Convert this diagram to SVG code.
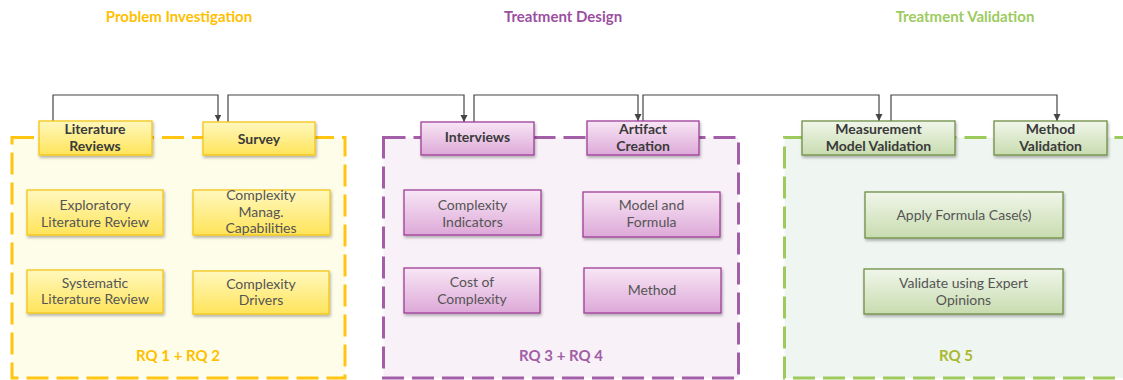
<svg xmlns="http://www.w3.org/2000/svg" width="1123" height="380" viewBox="0 0 1123 380">
<style>
.title{font-family:"Lato","Liberation Sans",sans-serif;font-weight:700;font-size:15px;text-anchor:middle}
.hd{font-family:"Lato","Liberation Sans",sans-serif;font-weight:700;font-size:14px;fill:#3a3a3a;text-anchor:middle}
.tx{font-family:"Lato","Liberation Sans",sans-serif;font-size:14px;fill:#555;text-anchor:middle}
.rq{font-family:"Lato","Liberation Sans",sans-serif;font-weight:700;font-size:15px;text-anchor:middle}
.cy{fill:#FEFDEA;stroke:#FFC510;stroke-width:3;stroke-dasharray:22 8}
.cp{fill:#F8F1F8;stroke:#A25EA6;stroke-width:3;stroke-dasharray:22 8}
.cg{fill:#EFF5F1;stroke:#9CCB5C;stroke-width:3;stroke-dasharray:22 8}
.by{fill:url(#gy);stroke:#F5C518;stroke-width:1.3;filter:url(#sh)}
.bp{fill:url(#gp);stroke:#9E3E98;stroke-width:1.3;filter:url(#sh)}
.bg{fill:url(#gg);stroke:#6F8F45;stroke-width:1.3;filter:url(#sh)}
.con{fill:none;stroke:#454545;stroke-width:1.2;marker-end:url(#ar)}
</style>
<defs>
<linearGradient id="gy" x1="0" y1="0" x2="0" y2="1"><stop offset="0" stop-color="#FFF8BE"/><stop offset="1" stop-color="#FFE45A"/></linearGradient>
<linearGradient id="gp" x1="0" y1="0" x2="0" y2="1"><stop offset="0" stop-color="#F8E6F5"/><stop offset="1" stop-color="#DDA9D8"/></linearGradient>
<linearGradient id="gg" x1="0" y1="0" x2="0" y2="1"><stop offset="0" stop-color="#F0F6EA"/><stop offset="1" stop-color="#C8DCAF"/></linearGradient>
<filter id="sh" x="-10%" y="-20%" width="125%" height="150%"><feDropShadow dx="1" dy="2" stdDeviation="1.5" flood-color="#000" flood-opacity="0.3"/></filter>
<marker id="ar" markerWidth="8" markerHeight="8" refX="7" refY="4" orient="auto" markerUnits="userSpaceOnUse"><path d="M0,0.5 L7,4 L0,7.5 Z" fill="#454545"/></marker>
</defs>
<rect width="1123" height="380" fill="#fff"/>
<text class="title" x="179" y="22" fill="#FFC000">Problem Investigation</text>
<text class="title" x="563" y="22" fill="#9B4FA0">Treatment Design</text>
<text class="title" x="965" y="22" fill="#9DCB5E">Treatment Validation</text>

<g id="phase-problem-investigation">
<rect class="cy" x="12" y="137.5" width="333" height="240.5"/>
<text class="rq" x="178" y="361" fill="#FFC000">RQ 1 + RQ 2</text>
</g>
<g id="phase-treatment-design">
<rect class="cp" x="383.5" y="137.5" width="355" height="240.5"/>
<text class="rq" x="561" y="361" fill="#A25EA6">RQ 3 + RQ 4</text>
</g>
<g id="phase-treatment-validation">
<rect class="cg" x="784.5" y="137.5" width="360" height="240.5"/>
<text class="rq" x="956" y="361" fill="#A9B82E">RQ 5</text>
</g>

<g id="connectors">
<path class="con" d="M53,121 V95 H218 V121.5"/>
<path class="con" d="M228,122 V95 H464 V122"/>
<path class="con" d="M474,122 V95 H638 V121"/>
<path class="con" d="M643,121 V95 H879 V121"/>
<path class="con" d="M891,121 V95 H1057 V121"/>
</g>

<g id="literature-reviews"><rect class="by" x="39" y="121" width="113" height="34"/><text class="hd" x="95" y="133.5">Literature</text><text class="hd" x="95" y="150.5">Reviews</text></g>
<g id="survey"><rect class="by" x="203" y="122" width="112" height="33"/><text class="hd" x="259" y="143.5">Survey</text></g>
<g id="exploratory-literature-review"><rect class="by" x="27" y="190" width="136" height="45"/><text class="tx" x="95" y="210">Exploratory</text><text class="tx" x="95" y="226.5">Literature Review</text></g>
<g id="complexity-manag-capabilities"><rect class="by" x="193" y="190" width="137" height="45"/><text class="tx" x="261" y="200">Complexity</text><text class="tx" x="261" y="216.5">Manag.</text><text class="tx" x="261" y="233">Capabilities</text></g>
<g id="systematic-literature-review"><rect class="by" x="27" y="270" width="136" height="43"/><text class="tx" x="95" y="287.5">Systematic</text><text class="tx" x="95" y="304">Literature Review</text></g>
<g id="complexity-drivers"><rect class="by" x="193" y="271" width="136" height="43"/><text class="tx" x="261" y="288.5">Complexity</text><text class="tx" x="261" y="305">Drivers</text></g>

<g id="interviews"><rect class="bp" x="421" y="122" width="113" height="33"/><text class="hd" x="477.5" y="142">Interviews</text></g>
<g id="artifact-creation"><rect class="bp" x="587" y="121" width="112" height="34"/><text class="hd" x="643" y="133.5">Artifact</text><text class="hd" x="643" y="150.5">Creation</text></g>
<g id="complexity-indicators"><rect class="bp" x="404" y="190" width="137" height="45"/><text class="tx" x="472.5" y="209.5">Complexity</text><text class="tx" x="472.5" y="226.5">Indicators</text></g>
<g id="model-and-formula"><rect class="bp" x="583" y="192" width="137" height="45"/><text class="tx" x="651.5" y="209.5">Model and</text><text class="tx" x="651.5" y="226.5">Formula</text></g>
<g id="cost-of-complexity"><rect class="bp" x="404" y="268" width="136" height="45"/><text class="tx" x="472" y="287">Cost of</text><text class="tx" x="472" y="304">Complexity</text></g>
<g id="method"><rect class="bp" x="584" y="268" width="137" height="45"/><text class="tx" x="652" y="294.5">Method</text></g>

<g id="measurement-model-validation"><rect class="bg" x="802" y="121" width="153" height="34"/><text class="hd" x="878.5" y="133.5">Measurement</text><text class="hd" x="878.5" y="150.5">Model Validation</text></g>
<g id="method-validation"><rect class="bg" x="994" y="121" width="113" height="34"/><text class="hd" x="1050.5" y="133.5">Method</text><text class="hd" x="1050.5" y="150.5">Validation</text></g>
<g id="apply-formula-cases"><rect class="bg" x="865" y="192" width="198" height="46"/><text class="tx" x="964" y="220">Apply Formula Case(s)</text></g>
<g id="validate-expert-opinions"><rect class="bg" x="864" y="269" width="199" height="45"/><text class="tx" x="963.5" y="288">Validate using Expert</text><text class="tx" x="963.5" y="305">Opinions</text></g>
</svg>
